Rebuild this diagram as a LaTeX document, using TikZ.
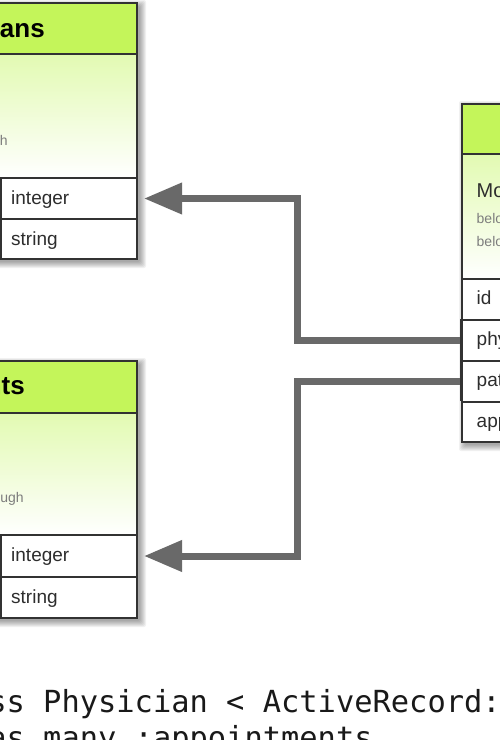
\documentclass[tikz,border=0pt]{standalone}
\usepackage{fontspec}
\setmainfont{Liberation Sans}
\newfontfamily\codefont{DejaVu Sans Mono}
\usetikzlibrary{arrows.meta}
\definecolor{hdrc}{RGB}{196,245,90}
\definecolor{bodyc}{RGB}{226,250,178}
\definecolor{bordc}{RGB}{50,50,50}
\definecolor{arrc}{RGB}{105,105,105}
\definecolor{txtc}{RGB}{45,45,45}
\definecolor{smallc}{RGB}{125,125,125}
\tikzset{
  hdrbox/.style={draw=bordc, line width=2pt, fill=hdrc, inner sep=0pt, anchor=north west},
  bodybox/.style={draw=bordc, line width=2pt, top color=bodyc, bottom color=white, inner sep=0pt, anchor=north west},
  rowbox/.style={draw=bordc, line width=2pt, fill=white, inner sep=0pt, anchor=north west},
  divline/.style={draw=bordc, line width=2pt},
  hdrtxt/.style={inner sep=0pt, text=black, font=\fontsize{26}{30}\selectfont\bfseries},
  modeltxt/.style={inner sep=0pt, text=txtc, font=\fontsize{20}{24}\selectfont, anchor=base west},
  smalltxt/.style={inner sep=0pt, text=smallc, font=\fontsize{14}{17}\selectfont},
  rowtxt/.style={inner sep=0pt, text=txtc, font=\fontsize{19}{23}\selectfont, anchor=base west},
  codetxt/.style={inner sep=0pt, text=black!90, font=\codefont\fontsize{30.4}{36}\selectfont, anchor=base west},
  conn/.style={draw=arrc, line width=7pt, -{Triangle[length=38pt,width=30pt]}, shorten >=6pt},
}
\begin{document}
\begin{tikzpicture}[x=1pt,y=-1pt]
\useasboundingbox (0,0) rectangle (500,740);
\clip (0,0) rectangle (500,740);
\fill[white] (0,0) rectangle (500,740);

% shadows
\foreach \s in {0,...,6}{
  \fill[black,opacity=0.055,rounded corners=2pt] (-170-\s,6-\s) rectangle (140+\s,262+\s);
  \fill[black,opacity=0.055,rounded corners=2pt] (-170-\s,364-\s) rectangle (140+\s,621+\s);
  \fill[black,opacity=0.055,rounded corners=2pt] (465-\s,107-\s) rectangle (784+\s,445+\s);
}

% Physicians table
\node[hdrbox, minimum width=296pt, minimum height=51pt] (phyhdr) at (-160,2) {};
\node[bodybox, minimum width=296pt, minimum height=124pt] (phybody) at (-160,53) {};
\node[rowbox, minimum width=296pt, minimum height=41pt] (phyint) at (-160,177) {};
\node[rowbox, minimum width=296pt, minimum height=40pt] (phystr) at (-160,218) {};
\draw[divline] (0.5,177) -- (0.5,258);
\node[hdrtxt, anchor=base east] (phytitle) at (45,37) {Physicians};
\node[smalltxt, anchor=base east] (phynote) at (8,145) {has\_many :patients, :through};
\node[rowtxt] (phyinttxt) at (11,204) {integer};
\node[rowtxt] (phystrtxt) at (11,245) {string};

% Patients table
\node[hdrbox, minimum width=296pt, minimum height=52pt] (pathdr) at (-160,360) {};
\node[bodybox, minimum width=296pt, minimum height=122pt] (patbody) at (-160,412) {};
\node[rowbox, minimum width=296pt, minimum height=42pt] (patint) at (-160,534) {};
\node[rowbox, minimum width=296pt, minimum height=41pt] (patstr) at (-160,576) {};
\draw[divline] (0.5,534) -- (0.5,617);
\node[hdrtxt, anchor=base east] (pattitle) at (25,394) {Patients};
\node[smalltxt, anchor=base east] (patnote) at (24,502) {has\_many :physicians, :through};
\node[rowtxt] (patinttxt) at (11,561) {integer};
\node[rowtxt] (patstrtxt) at (11,603) {string};

% Appointments table
\node[hdrbox, minimum width=320pt, minimum height=50pt] (apphdr) at (461,103) {};
\node[bodybox, minimum width=320pt, minimum height=125pt] (appbody) at (461,153) {};
\node[rowbox, minimum width=320pt, minimum height=41pt] (appid) at (461,278) {};
\node[rowbox, minimum width=320pt, minimum height=41pt] (appphy) at (461,319) {};
\node[rowbox, minimum width=320pt, minimum height=41pt] (apppat) at (461,360) {};
\node[rowbox, minimum width=320pt, minimum height=40pt] (appdate) at (461,401) {};
\node[modeltxt] (appmodel) at (476.5,197) {Model};
\node[smalltxt, anchor=base west] (appnote1) at (476.5,223) {belongs\_to :physician};
\node[smalltxt, anchor=base west] (appnote2) at (476.5,246) {belongs\_to :patient};
\node[rowtxt] (appidtxt) at (476.5,304) {id};
\node[rowtxt] (appphytxt) at (476.5,345) {physician\_id};
\node[rowtxt] (apppattxt) at (476.5,386) {patient\_id};
\node[rowtxt] (appdatetxt) at (476.5,427) {appointment\_date};

% connectors
\draw[conn] (appphy.west) -- ++(-164,0) |- (phyint.east);
\draw[conn] (apppat.west) -- ++(-164,0) |- (patint.east);
\draw[bordc, line width=2pt] (461,319) -- (461,401);

% code
\node[codetxt] (code1) at (-66.8,712) {class Physician < ActiveRecord::Base};
\node[codetxt] (code2) at (-30.2,748) {has\_many :appointments};
\end{tikzpicture}
\end{document}
